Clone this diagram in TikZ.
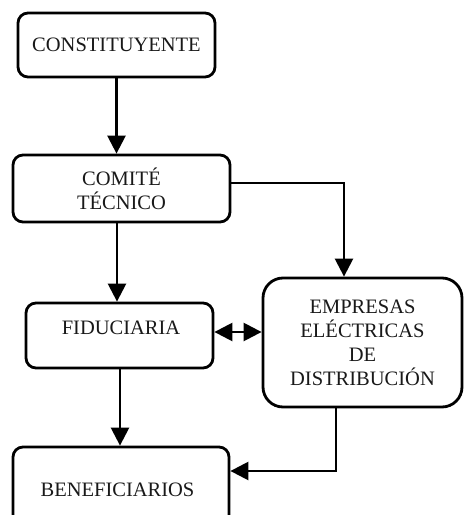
\documentclass[tikz,border=0pt]{standalone}
\usepackage{fontspec}
\setmainfont{Liberation Serif}
\usetikzlibrary{arrows.meta,calc}
\begin{document}
\begin{tikzpicture}[x=1pt,y=-1pt,
  box/.style={draw=black, line width=2.8pt, rounded corners=10pt, inner sep=0pt, align=center,
    font=\fontsize{20.5}{24}\selectfont, text=black!90},
  txt/.style={inner sep=0pt, align=center, font=\fontsize{20.5}{24}\selectfont, text=black!90},
  arr/.style={draw=black, line width=2.5pt, -{Triangle[length=18pt,width=18pt]}},
  darr/.style={draw=black, line width=2.5pt, {Triangle[length=18pt,width=18pt]}-{Triangle[length=18pt,width=18pt]}}]
\clip (0,0) rectangle (464,515);
\fill[white] (0,0) rectangle (464,515);
\node[box, minimum width=197pt, minimum height=64pt] (con) at (116.5,45) {CONSTITUYENTE};
\node[box, minimum width=217pt, minimum height=67pt] (com) at (121.5,188.5) {COMITÉ\\TÉCNICO};
\node[box, minimum width=187pt, minimum height=65pt] (fid) at (119.5,335.5) {};
\node[txt] (fidt) at (121,328) {FIDUCIARIA};
\node[box, rounded corners=20pt, minimum width=199pt, minimum height=129pt] (emp) at (362.5,342.5) {EMPRESAS\\ELÉCTRICAS\\DE\\DISTRIBUCIÓN};
\node[box, minimum width=216pt, minimum height=88pt] (ben) at (121,491) {};
\node[txt] (bent) at (117.5,490) {BENEFICIARIOS};
\draw[arr] (con.south) -- (con.south |- com.north);
\draw[arr] ([yshift=5.5pt]com.east) -| ([xshift=-18.5pt]emp.north);
\draw[arr] ([xshift=-4.5pt]com.south) -- ([xshift=-4.5pt]com.south |- fid.north);
\draw[darr] ([yshift=3.5pt]fid.east) -- ([yshift=3.5pt]fid.east -| emp.west);
\draw[arr] ([xshift=0.5pt]fid.south) -- ([xshift=0.5pt]fid.south |- ben.north);
\draw[arr] ([xshift=-26.5pt]emp.south) |- ([yshift=20pt]ben.east);
\end{tikzpicture}
\end{document}
